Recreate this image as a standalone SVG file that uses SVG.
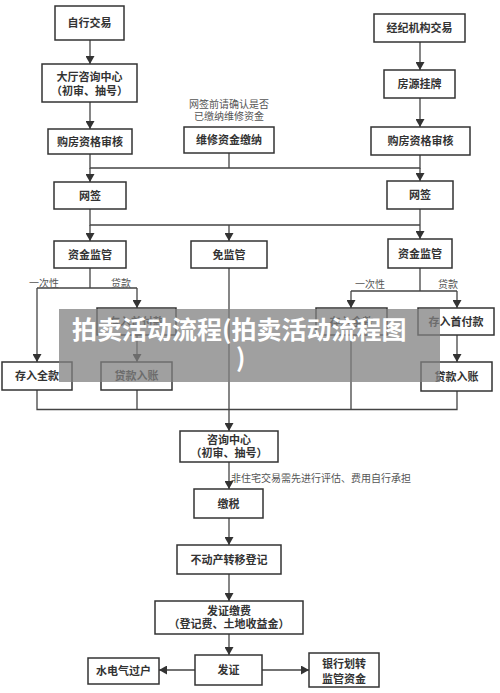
<svg xmlns="http://www.w3.org/2000/svg" width="500" height="693" viewBox="0 0 500 693">
<defs>
<marker id="ah" markerUnits="userSpaceOnUse" markerWidth="8" markerHeight="9" refX="8" refY="4.5" orient="auto">
<path d="M0,0 L8,4.5 L0,9 z" fill="#333"/>
</marker>
<style>
.b{fill:#fff;stroke:#333;stroke-width:1.5}
.t{font-family:"Noto Sans CJK SC","Noto Sans",sans-serif;font-size:11px;font-weight:bold;fill:#333;text-anchor:middle}
.n{font-family:"Noto Sans CJK SC","Noto Sans",sans-serif;font-size:10px;fill:#555}
.c{fill:none;stroke:#444;stroke-width:1.3}
.a{fill:none;stroke:#444;stroke-width:1.3;marker-end:url(#ah)}
.w{font-family:"Noto Sans CJK SC","Noto Sans",sans-serif;font-size:25px;font-weight:bold;fill:#fff}
</style>
</defs>
<rect width="500" height="693" fill="#fff"/>

<g id="connectors">
<path class="a" d="M90,40 V64"/>
<path class="a" d="M90,102 V129"/>
<path class="a" d="M420,42 V70"/>
<path class="a" d="M420,98 V127"/>
<path class="c" d="M90,154 V168 H420 V155 M229,153 V168"/>
<path class="a" d="M90,168 V182"/>
<path class="a" d="M420,168 V181"/>
<path class="c" d="M90,209 V225 H420"/>
<path class="a" d="M420,209 V239"/>
<path class="a" d="M90,225 V241"/>
<path class="a" d="M229,225 V241"/>
<path class="c" d="M90,268 V288 M37,288 H137"/>
<path class="a" d="M37,288 V362"/>
<path class="a" d="M137,288 V308"/>
<path class="a" d="M137,335 V362"/>
<path class="c" d="M420,268 V291 M351,291 H457"/>
<path class="a" d="M351,291 V308"/>
<path class="a" d="M457,291 V308"/>
<path class="a" d="M457,335 V362"/>
<path class="c" d="M37,390 V409.5 H457 V391 M137,390 V409.5 M351,335 V409.5"/>
<path class="a" d="M229,268 V431"/>
<path class="a" d="M229,462 V489"/>
<path class="a" d="M229,518 V545"/>
<path class="a" d="M229,574 V601"/>
<path class="a" d="M229,634 V655"/>
<path class="a" d="M195,670 H159"/>
<path class="a" d="M262,670 H309"/>
</g>

<g id="n1"><rect class="b" x="55" y="6" width="69" height="34"/><text class="t" x="89.5" y="27">自行交易</text></g>
<g id="n2"><rect class="b" x="42" y="64" width="95" height="38"/><text class="t" x="89.5" y="81">大厅咨询中心</text><text class="t" x="89.5" y="95">（初审、抽号）</text></g>
<g id="n3"><rect class="b" x="48" y="129" width="84" height="25"/><text class="t" x="90" y="145.5">购房资格审核</text></g>
<g id="n4"><rect class="b" x="184" y="127" width="90" height="26"/><text class="t" x="229" y="144">维修资金缴纳</text></g>
<g id="note1"><text class="n" x="229" y="108" text-anchor="middle">网签前请确认是否</text><text class="n" x="229" y="120" text-anchor="middle">已缴纳维修资金</text></g>
<g id="n5"><rect class="b" x="374" y="14" width="91" height="28"/><text class="t" x="419.5" y="32">经纪机构交易</text></g>
<g id="n6"><rect class="b" x="384" y="70" width="71" height="28"/><text class="t" x="419.5" y="88">房源挂牌</text></g>
<g id="n7"><rect class="b" x="371" y="127" width="99" height="28"/><text class="t" x="420.5" y="145">购房资格审核</text></g>
<g id="n8"><rect class="b" x="54" y="182" width="72" height="27"/><text class="t" x="90" y="199.5">网签</text></g>
<g id="n9"><rect class="b" x="387" y="181" width="66" height="28"/><text class="t" x="420" y="199">网签</text></g>
<g id="n10"><rect class="b" x="54" y="241" width="72" height="27"/><text class="t" x="90" y="258.5">资金监管</text></g>
<g id="n11"><rect class="b" x="191" y="241" width="76" height="27"/><text class="t" x="229" y="258.5">免监管</text></g>
<g id="n12"><rect class="b" x="388" y="239" width="64" height="29"/><text class="t" x="420" y="257.5">资金监管</text></g>
<g id="labels"><text class="n" x="29" y="287">一次性</text><text class="n" x="111" y="287">贷款</text><text class="n" x="355" y="288">一次性</text><text class="n" x="438" y="288">贷款</text></g>
<g id="n13"><rect class="b" x="2" y="362" width="70" height="28"/><text class="t" x="37" y="380">存入全款</text></g>
<g id="n14"><rect class="b" x="97" y="308" width="79" height="27"/><text class="t" x="136.5" y="325.5">存入首付款</text></g>
<g id="n15"><rect class="b" x="101" y="362" width="71" height="28"/><text class="t" x="136.5" y="380">贷款入账</text></g>
<g id="n16"><rect class="b" x="316" y="308" width="71" height="27"/><text class="t" x="351.5" y="325.5">存入全款</text></g>
<g id="n17"><rect class="b" x="418" y="308" width="76" height="27"/><text class="t" x="456" y="325.5">存入首付款</text></g>
<g id="n18"><rect class="b" x="421" y="362" width="71" height="29"/><text class="t" x="456.5" y="380.5">贷款入账</text></g>
<g id="n19"><rect class="b" x="180" y="431" width="98" height="31"/><text class="t" x="229" y="444">咨询中心</text><text class="t" x="229" y="457">（初审、抽号）</text></g>
<g id="note2"><text class="n" x="231" y="482">非住宅交易需先进行评估、费用自行承担</text></g>
<g id="n20"><rect class="b" x="194" y="489" width="69" height="29"/><text class="t" x="228.5" y="507.5">缴税</text></g>
<g id="n21"><rect class="b" x="177" y="545" width="104" height="29"/><text class="t" x="229" y="563.5">不动产转移登记</text></g>
<g id="n22"><rect class="b" x="155" y="601" width="148" height="33"/><text class="t" x="229" y="615">发证缴费</text><text class="t" x="229" y="628">（登记费、土地收益金）</text></g>
<g id="n23"><rect class="b" x="195" y="655" width="67" height="30"/><text class="t" x="228.5" y="674">发证</text></g>
<g id="n24"><rect class="b" x="88" y="658" width="71" height="26"/><text class="t" x="123.5" y="675">水电气过户</text></g>
<g id="n25"><rect class="b" x="309" y="653" width="70" height="34"/><text class="t" x="344" y="668">银行划转</text><text class="t" x="344" y="683">监管资金</text></g>

<g id="watermark">
<rect x="59" y="309" width="381" height="73" fill="#808080" fill-opacity="0.75"/>
<text class="w" x="72" y="339">拍卖活动流程(拍卖活动流程图</text>
<text class="w" x="236" y="367">)</text>
</g>
</svg>
